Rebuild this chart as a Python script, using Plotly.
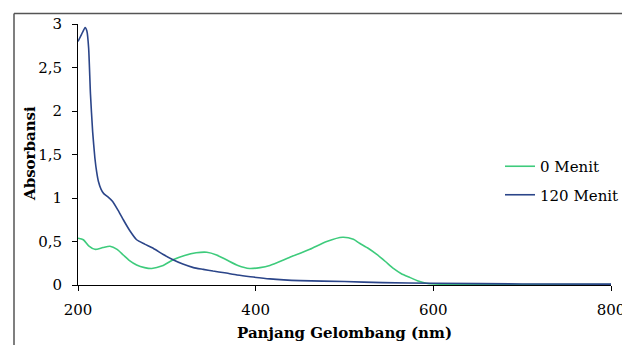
import plotly.graph_objects as go

# Absorbance spectra at two reaction times
wl_0 = [200, 206, 212, 219, 228, 236, 244, 251, 258, 266, 275, 283, 295, 307, 320,
        333, 345, 356, 367, 380, 393, 405, 416, 438, 461, 480, 498, 510, 517, 527,
        536, 546, 555, 564, 574, 583, 592, 600, 650, 700, 750, 800]
abs_0 = [0.537, 0.52, 0.45, 0.41, 0.43, 0.445, 0.41, 0.345, 0.28, 0.23, 0.2, 0.19, 0.22, 0.29, 0.34,
         0.37, 0.376, 0.345, 0.29, 0.225, 0.19, 0.2, 0.225, 0.316, 0.41, 0.5, 0.548, 0.525, 0.48, 0.42,
         0.355, 0.27, 0.19, 0.13, 0.085, 0.045, 0.02, 0.012, 0.008, 0.006, 0.005, 0.005]

wl_120 = [200, 204, 208, 210, 212, 214, 216.5, 219, 221, 223, 226, 229, 234, 239, 245,
          251, 258, 266, 275, 285, 296, 307, 318, 330, 341, 352, 365, 379, 394, 416,
          450, 500, 543, 600, 700, 800]
abs_120 = [2.8, 2.88, 2.96, 2.92, 2.72, 2.2, 1.76, 1.46, 1.3, 1.19, 1.1, 1.05, 1.01, 0.96, 0.86,
           0.75, 0.63, 0.52, 0.47, 0.42, 0.35, 0.29, 0.24, 0.2, 0.18, 0.16, 0.14, 0.115, 0.095, 0.07,
           0.05, 0.04, 0.027, 0.02, 0.012, 0.01]

x_ticks = [200, 400, 600, 800]
y_ticks = [0, 0.5, 1, 1.5, 2, 2.5, 3]

FONT = "DejaVu Serif"
W, H = 622, 345
L, R, T, B = 78, 11, 24, 60
pw, ph = W - L - R, H - T - B


def px_x(p):
    return (p - L) / pw


def px_y(p):
    return (H - B - p) / ph


fig = go.Figure()
fig.add_trace(go.Scatter(
    x=wl_0, y=abs_0, mode="lines", name="0 Menit", legendgroup="a",
    line=dict(color="#3ecb7c", width=1.6, shape="spline", smoothing=0.6),
))
fig.add_trace(go.Scatter(
    x=wl_120, y=abs_120, mode="lines", name="120 Menit", legendgroup="b",
    line=dict(color="#2b4589", width=1.6, shape="spline", smoothing=0.5),
))

axis_common = dict(
    showgrid=False, zeroline=False, showline=True, linecolor="black", linewidth=1,
    ticks="outside", ticklen=5, tickcolor="black", tickwidth=1, automargin=False,
    ticklabeloverflow="allow",
    tickfont=dict(family=FONT, size=15, color="black"),
)

fig.update_layout(
    width=W, height=H,
    margin=dict(l=L, r=R, t=T, b=B, autoexpand=False),
    paper_bgcolor="white", plot_bgcolor="white",
    separators=", ",
    font=dict(family=FONT, color="black"),
    xaxis=dict(range=[200, 800], tickvals=x_ticks, ticklabelstandoff=6, **axis_common),
    yaxis=dict(range=[0, 3], tickvals=y_ticks, ticklabelstandoff=7, **axis_common),
    showlegend=True,
    legend=dict(x=px_x(500), y=px_y(150), xanchor="left", yanchor="top",
                tracegroupgap=6, bgcolor="rgba(0,0,0,0)",
                font=dict(family=FONT, size=15, color="black")),
    annotations=[
        dict(text="<b>Absorbansi</b>", textangle=-90, x=px_x(30), y=px_y(154),
             xref="paper", yref="paper", xanchor="center", yanchor="middle",
             showarrow=False, font=dict(family=FONT, size=15, color="black")),
        dict(text="<b>Panjang Gelombang (nm)</b>", x=px_x(344), y=px_y(333),
             xref="paper", yref="paper", xanchor="center", yanchor="middle",
             showarrow=False, font=dict(family=FONT, size=15, color="black")),
    ],
    shapes=[
        dict(type="line", xref="paper", yref="paper",
             x0=px_x(14), x1=px_x(625), y0=px_y(13.5), y1=px_y(13.5),
             line=dict(color="#555555", width=1.5)),
        dict(type="line", xref="paper", yref="paper",
             x0=px_x(14), x1=px_x(14), y0=px_y(13.5), y1=px_y(348),
             line=dict(color="#555555", width=1.5)),
    ],
)

fig.write_html("out.html")
